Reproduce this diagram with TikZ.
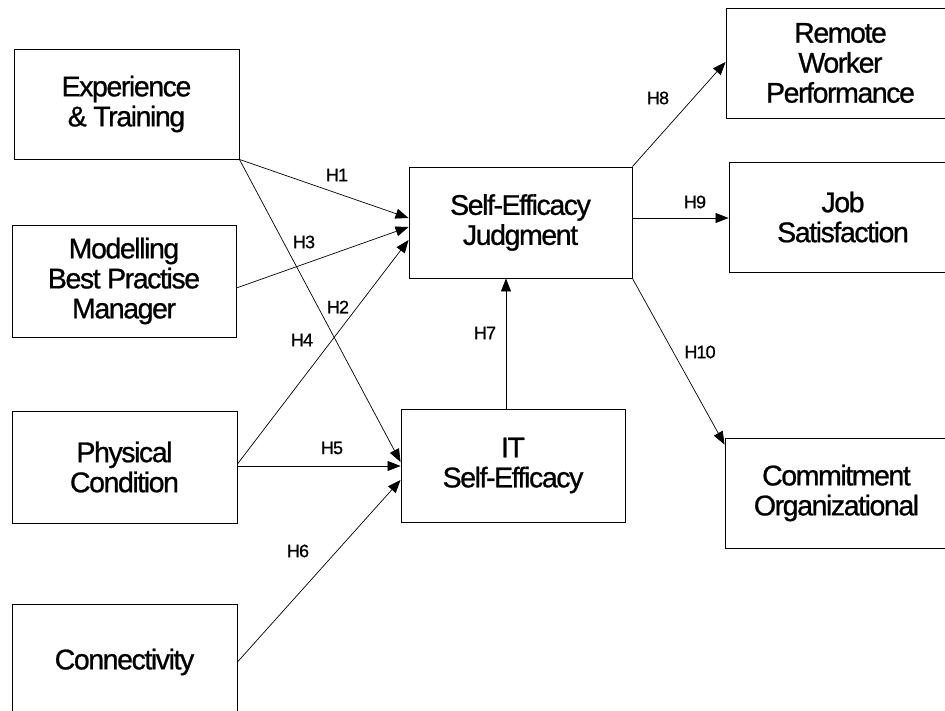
\documentclass[tikz,border=0pt]{standalone}
\usepackage{fontspec}
\setmainfont{Liberation Sans}
\newfontfamily\boxfont[LetterSpace=-5,FakeBold=0.8]{Liberation Sans}
\usetikzlibrary{arrows.meta}
\begin{document}
\begin{tikzpicture}[x=1pt,y=-1pt,
  box/.style={draw, line width=0.9pt, align=center, inner sep=0pt,
    font=\boxfont\fontsize{28.5}{30}\selectfont},
  conn/.style={line width=0.7pt, -{Triangle[length=13pt,width=10pt]}},
  hlab/.style={font=\boxfont\fontsize{18}{20}\selectfont, inner sep=0pt}]
\useasboundingbox (0,0) rectangle (945,711);
\clip (0,0) rectangle (945,711);
% boxes
\node[box, minimum width=225pt, minimum height=110pt] (exp) at (126.5,104) {Experience\\\& Training};
\node[box, minimum width=224pt, minimum height=112pt] (mod) at (124,281) {Modelling\\Best Practise\\Manager};
\node[box, minimum width=225pt, minimum height=112pt] (phy) at (124.5,467) {Physical\\Condition};
\node[box, minimum width=225pt, minimum height=116pt] (con) at (124.5,662) {Connectivity};
\node[box, minimum width=223pt, minimum height=111pt] (sej) at (520.5,222.5) {Self-Efficacy\\Judgment};
\node[box, minimum width=224pt, minimum height=113pt] (it) at (513,465.5) {IT\\Self-Efficacy};
\node[box, minimum width=229pt, minimum height=110pt] (rem) at (840.5,63) {Remote\\Worker\\Performance};
\node[box, minimum width=228pt, minimum height=110pt] (job) at (843,217) {Job\\Satisfaction};
\node[box, minimum width=223pt, minimum height=110pt] (com) at (836.5,493) {Commitment\\Organizational};
% connectors
\draw[conn] (exp.south east) -- ([yshift=4.5pt]sej.west);
\draw[conn] ([yshift=-7pt]mod.east) -- ([yshift=-4.5pt]sej.west);
\draw[conn] ([yshift=3pt]phy.east) -- ([yshift=-17.5pt]sej.west);
\draw[conn] (exp.south east) -- ([yshift=3.5pt]it.west);
\coordinate (p5) at ([yshift=1pt]phy.east);
\draw[conn] (p5) -- (p5 -| it.west);
\draw[conn] (con.east) -- ([yshift=-14.5pt]it.west);
\coordinate (p7) at ([xshift=-7pt]it.north);
\draw[conn] (p7) -- (p7 |- sej.south);
\draw[conn] (sej.north east) -- ([yshift=1pt]rem.west);
\coordinate (p9) at ([yshift=4.5pt]sej.east);
\draw[conn] (p9) -- (p9 -| job.west);
\draw[conn] (sej.south east) -- ([yshift=-7pt]com.north west);
% labels
\node[hlab] (h1) at (337,175) {H1};
\node[hlab] (h3) at (304,242) {H3};
\node[hlab] (h2) at (338,307) {H2};
\node[hlab] (h4) at (302,340) {H4};
\node[hlab] (h5) at (332,448) {H5};
\node[hlab] (h6) at (298,551) {H6};
\node[hlab] (h7) at (485,333) {H7};
\node[hlab] (h8) at (658,98) {H8};
\node[hlab] (h9) at (695,202) {H9};
\node[hlab] (h10) at (700,352) {H10};
\end{tikzpicture}
\end{document}
